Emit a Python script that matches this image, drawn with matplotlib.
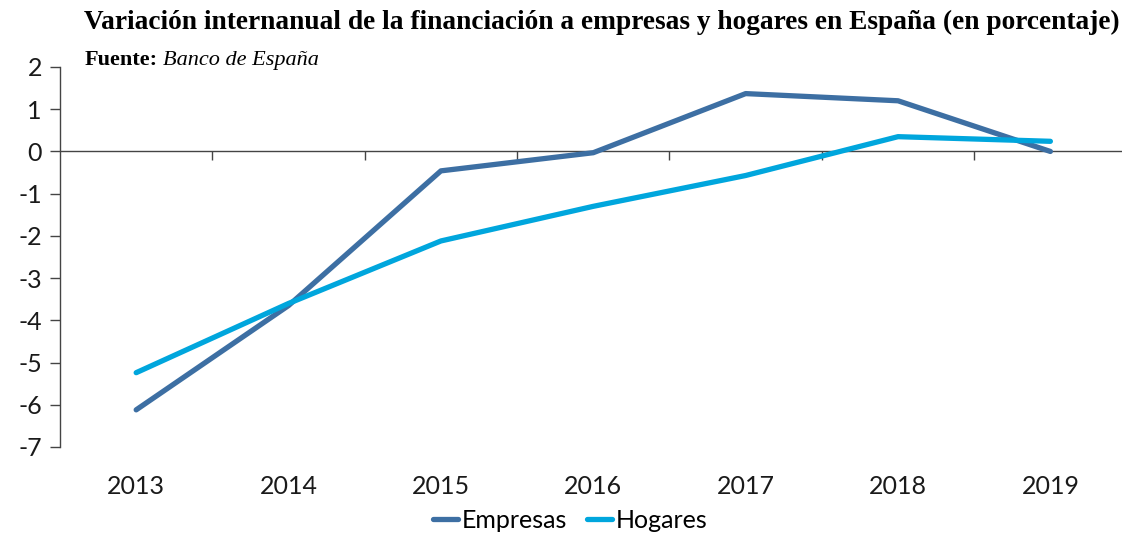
import matplotlib.pyplot as plt

years = ['2013', '2014', '2015', '2016', '2017', '2018', '2019']
empresas = [-6.12, -3.65, -0.46, -0.03, 1.37, 1.2, 0.0]
hogares = [-5.24, -3.6, -2.12, -1.3, -0.57, 0.35, 0.24]
yticks = [2, 1, 0, -1, -2, -3, -4, -5, -6, -7]

c_emp = '#3d6fa3'
c_hog = '#00a6dd'

fig = plt.figure(figsize=(11.22, 5.34), dpi=100)
ax = fig.add_axes([60 / 1122, 1 - 447 / 534, 1062 / 1122, 380 / 534])

x = range(len(years))
ax.plot(x, empresas, color=c_emp, lw=3.8, solid_capstyle='round', label='Empresas', zorder=3)
ax.plot(x, hogares, color=c_hog, lw=3.8, solid_capstyle='round', label='Hogares', zorder=3)

# zero line with category separators
ax.axhline(0, color='#444444', lw=1, zorder=1)
ax.vlines([i + 0.5 for i in range(len(years) - 1)], -0.2, 0, color='#444444', lw=1, zorder=1)

ax.set_xlim(-0.5, 6.47)
ax.set_ylim(-7, 2)
ax.set_yticks(yticks)
ax.set_yticklabels([str(v) for v in yticks])
ax.set_xticks(list(x))
ax.set_xticklabels(years)

for s in ['top', 'right', 'bottom']:
    ax.spines[s].set_visible(False)
ax.spines['left'].set_color('#444444')
ax.spines['left'].set_linewidth(1)
ax.tick_params(axis='y', direction='out', length=7, width=1, color='#444444',
               labelsize=18, pad=6, labelcolor='#1a1a1a')
ax.tick_params(axis='x', length=0, labelsize=18, pad=20, labelcolor='#1a1a1a')
for t in ax.get_xticklabels() + ax.get_yticklabels():
    t.set_fontfamily('Lato')

fig.text(0.536, 0.958, 'Variación internanual de la financiación a empresas y hogares en España (en porcentaje)',
         ha='center', va='center', fontsize=19.7, fontweight='bold', family='Liberation Serif')
fig.text(85 / 1122, 1 - 60 / 534, 'Fuente:', ha='left', va='center', fontsize=16,
         fontweight='bold', family='Liberation Serif')
fig.text(163 / 1122, 1 - 60 / 534, 'Banco de España', ha='left', va='center', fontsize=16,
         style='italic', family='Liberation Serif')

leg = fig.legend(loc='lower center', bbox_to_anchor=(0.508, -0.038), ncol=2, frameon=False,
                 handlelength=1.0, handletextpad=0.15, columnspacing=0.8,
                 prop={'family': 'Lato', 'size': 18})

fig.savefig('out.png', dpi=100)
